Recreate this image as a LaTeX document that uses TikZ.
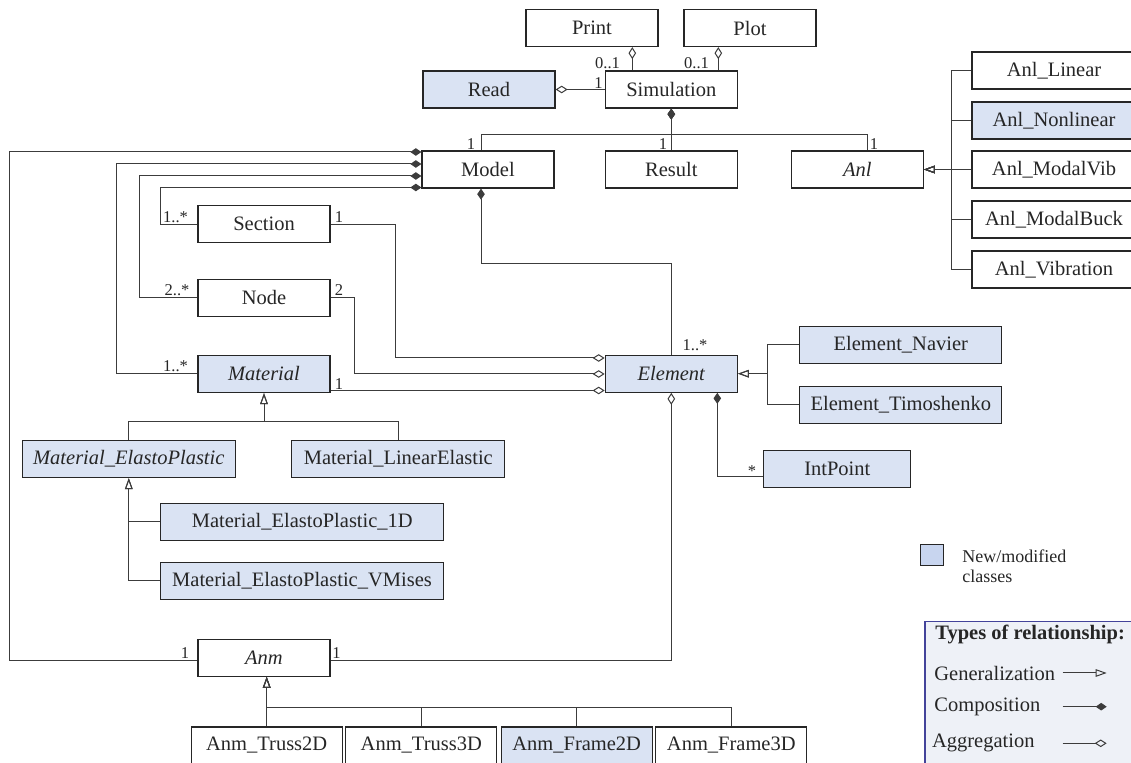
\documentclass[tikz,border=0pt]{standalone}
\usepackage{fontspec}
\setmainfont{Liberation Serif}
\usetikzlibrary{arrows.meta,positioning,calc}
\definecolor{ink}{HTML}{262626}
\definecolor{wire}{HTML}{3C3C3C}
\definecolor{newcls}{HTML}{DAE3F3}
\definecolor{keyfill}{HTML}{C8D5EF}
\definecolor{legline}{HTML}{43439A}
\definecolor{legfill}{HTML}{EEF1F7}
\newcommand{\umlfont}{\fontsize{10.25}{12}\selectfont}
\newcommand{\multfont}{\fontsize{8.25}{9}\selectfont}

\begin{document}
\begin{tikzpicture}[
  x=0.5pt, y=-0.5pt, line join=miter,
  cls/.style={draw=ink, line width=0.65pt, minimum width=66pt, minimum height=18.5pt,
              inner sep=1pt, font=\umlfont, text=ink},
  newc/.style={fill=newcls},
  abst/.style={font=\umlfont\itshape},
  anlsub/.style={cls, minimum width=82pt},
  anmsub/.style={cls, minimum width=75.5pt},
  mult/.style={font=\multfont, text=ink, inner sep=0pt},
  wireln/.style={draw=wire, line width=0.5pt},
  comp/.style={wireln, -{Diamond[length=5.5pt,width=3.8pt]}},
  aggr/.style={wireln, -{Diamond[open,length=6pt,width=3.8pt]}},
  gen/.style={wireln, -{Triangle[open,length=5.5pt,width=3.8pt]}}]

\useasboundingbox (0,0) rectangle (1131,763);

% top row
\node[cls] (print) at (592,28) {Print};
\node[cls] (plot) at (750,28) {Plot};
\node[cls, newc] (read) at (489,89.5) {Read};
\node[cls] (sim) at (671.3,89.5) {Simulation};
\node[cls] (model) at (488,169.5) {Model};
\node[cls] (result) at (671.3,169.5) {Result};
\node[cls, abst] (anl) at (857.3,169.5) {Anl};

% analysis types
\node[anlsub] (anlLin) at (1054,70.5) {Anl\_Linear};
\node[anlsub, newc] (anlNon) at (1054,120.5) {Anl\_Nonlinear};
\node[anlsub] (anlVib) at (1054,169.5) {Anl\_ModalVib};
\node[anlsub] (anlBuck) at (1054,219.5) {Anl\_ModalBuck};
\node[anlsub] (anlVibr) at (1054,269.5) {Anl\_Vibration};

% model contents
\node[cls] (section) at (264,224.2) {Section};
\node[cls] (nd) at (264,297.7) {Node};
\node[cls, newc, abst] (material) at (264,374) {Material};
\node[cls, newc, abst] (element) at (671.3,373.7) {Element};
\node[cls, newc, minimum width=101pt] (navier) at (900.8,344.7) {Element\_Navier};
\node[cls, newc, minimum width=101pt] (timo) at (900.8,404.7) {Element\_Timoshenko};
\node[cls, newc, minimum width=73.5pt] (intpt) at (837.3,469.2) {IntPoint};

% materials
\node[cls, newc, abst, minimum width=106.5pt] (matEP) at (128.8,459) {Material\_ElastoPlastic};
\node[cls, newc, minimum width=106.5pt] (matLE) at (398.3,459) {Material\_LinearElastic};
\node[cls, newc, minimum width=141.5pt] (matEP1) at (302.3,522) {Material\_ElastoPlastic\_1D};
\node[cls, newc, minimum width=141.5pt] (matVM) at (302,581) {Material\_ElastoPlastic\_VMises};

% analysis models
\node[cls, abst] (anm) at (264,657.7) {Anm};
\node[anmsub] (truss2) at (266.7,745.5) {Anm\_Truss2D};
\node[anmsub] (truss3) at (421.3,745.5) {Anm\_Truss3D};
\node[anmsub, newc] (frame2) at (576.7,745.5) {Anm\_Frame2D};
\node[anmsub] (frame3) at (731.3,745.5) {Anm\_Frame3D};

% simulation links
\draw[aggr] (sim.north -| 632.3,0) -- (print.south -| 632.3,0);
\draw[aggr] (sim.north -| 718.3,0) -- (plot.south -| 718.3,0);
\draw[aggr] (sim.west) -- (read.east);
\draw[comp] (model.north -| 481,0) |- (671.3,135) -- (sim.south);
\draw[comp] (result.north) -- (sim.south);
\draw[comp] (anl.north -| 867.3,0) |- (671.3,135) -- (sim.south);

\draw[gen] (anlLin.west) -| (951,169.5) -- (anl.east);
\draw[gen] (anlNon.west) -| (951,169.5) -- (anl.east);
\draw[gen] (anlVib.west) -- (anl.east);
\draw[gen] (anlBuck.west) -| (951,169.5) -- (anl.east);
\draw[gen] (anlVibr.west) -| (951,169.5) -- (anl.east);

% model composition
\draw[comp] ([yshift=-1.5pt]anm.west) -| (9,152) -- (model.west |- 0,152);
\draw[comp] (material.west) -| (116.7,164) -- (model.west |- 0,164);
\draw[comp] (nd.west) -| (139,176) -- (model.west |- 0,176);
\draw[comp] (section.west) -| (160,187.5) -- (model.west |- 0,187.5);
\draw[comp] (element.north) |- (481,264) -- (model.south -| 481,0);

% element links
\draw[aggr] (section.east) -| (395.7,358) -- (element.west |- 0,358);
\draw[aggr] (nd.east) -| (354,374) -- (element.west |- 0,374);
\draw[aggr] (material.east |- 0,390.5) -- (element.west |- 0,390.5);
\draw[aggr] ([yshift=-1.5pt]anm.east) -| (element.south);
\draw[comp] (intpt.west |- 0,476.7) -| (element.south -| 717.3,0);
\draw[gen] (navier.west) -| (767.3,373.7) -- (element.east);
\draw[gen] (timo.west) -| (767.3,373.7) -- (element.east);

% material hierarchy
\draw[gen] (matEP.north) |- (264,421.7) -- (material.south);
\draw[gen] (matLE.north) |- (264,421.7) -- (material.south);
\draw[gen] (matEP1.west) -| (matEP.south);
\draw[gen] (matVM.west) -| (matEP.south);

% anm hierarchy
\draw[gen] (truss2.north) -- (truss2.north |- anm.south);
\draw[gen] (truss3.north) |- (266.7,707.3) -- (truss2.north |- anm.south);
\draw[gen] (frame2.north) |- (266.7,707.3) -- (truss2.north |- anm.south);
\draw[gen] (frame3.north) |- (266.7,707.3) -- (truss2.north |- anm.south);

% multiplicities
\node[mult] (mPrint) at (607.5,63) {0..1};
\node[mult] (mPlot) at (696.5,63) {0..1};
\node[mult] (mRead) at (598.5,83) {1};
\node[mult] (mModel) at (471,144) {1};
\node[mult] (mResult) at (663,144) {1};
\node[mult] (mAnl) at (874,144) {1};
\node[mult] (mSecL) at (175.5,217) {1..*};
\node[mult] (mSecR) at (339,217) {1};
\node[mult] (mNodeL) at (177,290) {2..*};
\node[mult] (mNodeR) at (339,290) {2};
\node[mult] (mMatL) at (175.5,366) {1..*};
\node[mult] (mMatR) at (339,384) {1};
\node[mult] (mElem) at (695,345.5) {1..*};
\node[mult] (mInt) at (752,471) {*};
\node[mult] (mAnmL) at (185,653.5) {1};
\node[mult] (mAnmR) at (336.5,653.5) {1};

% legend
\node[draw=ink, fill=keyfill, line width=0.65pt, minimum width=11.3pt, minimum height=10.8pt,
      inner sep=0pt] (key) at (932,555) {};
\node[font=\fontsize{9}{10.35}\selectfont, text=ink, align=left, anchor=west, inner sep=0pt]
  (keytxt) at (962,566.3) {New/modified\\classes};
\node[draw=legline, fill=legfill, line width=0.6pt, minimum width=112pt, minimum height=80pt,
      anchor=north west, inner sep=0pt] (legend) at (924.3,620.7) {};
\node[font=\umlfont\bfseries, text=ink, anchor=west, inner sep=0pt]
  (legTitle) at (935,635) {Types of relationship:};
\node[font=\umlfont, text=ink, anchor=west, inner sep=0pt] (legGen) at (934,673) {Generalization};
\node[font=\umlfont, text=ink, anchor=west, inner sep=0pt] (legComp) at (934,706.7) {Composition};
\node[font=\umlfont, text=ink, anchor=west, inner sep=0pt] (legAggr) at (931.7,743.3) {Aggregation};
\coordinate (gA) at (1062.7,673);
\coordinate (gB) at (1106.7,673);
\coordinate (cA) at (1062.7,706.7);
\coordinate (cB) at (1106.7,706.7);
\coordinate (aA) at (1062.7,743.3);
\coordinate (aB) at (1106.7,743.3);
\draw[gen] (gA) -- (gB);
\draw[comp] (cA) -- (cB);
\draw[aggr] (aA) -- (aB);

\end{tikzpicture}
\end{document}
